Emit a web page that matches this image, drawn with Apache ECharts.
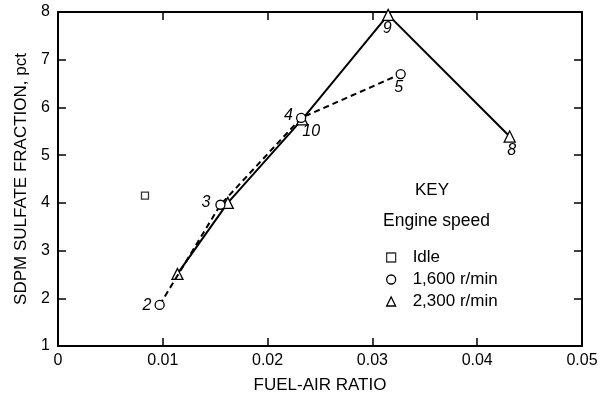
<!DOCTYPE html>
<html><head><meta charset="utf-8">
<script src="https://cdn.jsdelivr.net/npm/echarts@6/dist/echarts.min.js"></script>
<style>html,body{margin:0;padding:0;background:#fff}#c{width:604px;height:399px}</style>
</head><body><div id="c"></div>
<script>
// Data
const idleX = [0.0083];
const idleY = [4.15];
const r1600X = [0.0097, 0.0155, 0.0232, 0.0327];
const r1600Y = [1.86, 3.96, 5.78, 6.70];
const r1600Labels = ['2', '3', '4', '5'];
const r2300X = [0.0114, 0.0162, 0.0233, 0.0315, 0.0431];
const r2300Y = [2.51, 4.00, 5.75, 7.94, 5.39];
const r2300Labels = ['', '', '10', '9', '8'];
const xTicks = [0, 0.01, 0.02, 0.03, 0.04, 0.05];
const yTicks = [1, 2, 3, 4, 5, 6, 7, 8];

const FONT = 'Liberation Sans';
const lblPos1600 = [
  {position: 'left', distance: 3, offset: [0, 1]},
  {position: 'left', distance: 3, offset: [-2, -2]},
  {position: 'left', distance: 3, offset: [0, -2]},
  {position: 'bottom', distance: 0, offset: [-2, 0]}
];
const lblPos2300 = [
  {}, {},
  {position: 'bottom', distance: 1, offset: [9, -3]},
  {position: 'bottom', distance: 0, offset: [-1, 0]},
  {position: 'bottom', distance: 0, offset: [2, 0]}
];
function mk(xs, ys, labels, pos) {
  return xs.map((x, i) => {
    const d = {value: [x, ys[i]]};
    if (labels && labels[i]) {
      d.label = Object.assign({show: true, formatter: labels[i], fontStyle: 'italic',
        fontFamily: FONT, fontSize: 16, color: '#000'}, pos[i]);
    }
    return d;
  });
}
const hollow = {color: '#fff', borderColor: '#000', borderWidth: 1.3};
const chart = echarts.init(document.getElementById('c'), null, {renderer: 'canvas'});
const axisCommon = {
  type: 'value', min: 0, max: 0.05, interval: 0.01,
  axisLine: {show: true, onZero: false, lineStyle: {color: '#000', width: 2}},
  axisTick: {show: true, inside: true, length: 8, lineStyle: {color: '#000', width: 1.5}},
  splitLine: {show: false}
};
chart.setOption({
  animation: false,
  grid: {left: 58, right: 22, top: 12, bottom: 51},
  xAxis: [
    Object.assign({}, axisCommon, {
      position: 'bottom',
      name: 'FUEL-AIR RATIO', nameLocation: 'middle', nameGap: 31,
      nameTextStyle: {fontFamily: FONT, fontSize: 17, color: '#000'},
      axisLabel: {margin: 7, fontFamily: FONT, fontSize: 16, color: '#000',
        formatter: v => { const t = xTicks.find(k => Math.abs(k - v) < 1e-9); return t === 0 ? '0' : String(t); }}
    }),
    Object.assign({}, axisCommon, {position: 'top', axisLabel: {show: false}})
  ],
  yAxis: [
    {type: 'value', min: 1, max: 8, interval: 1, position: 'left',
      name: 'SDPM SULFATE FRACTION, pct', nameLocation: 'middle', nameGap: 27,
      nameTextStyle: {fontFamily: FONT, fontSize: 17, color: '#000'},
      axisLine: {show: true, onZero: false, lineStyle: {color: '#000', width: 2}},
      axisTick: {show: true, inside: true, length: 8, lineStyle: {color: '#000', width: 1.5}},
      splitLine: {show: false},
      axisLabel: {margin: 8, fontFamily: FONT, fontSize: 16, color: '#000',
        formatter: v => String(yTicks.find(k => Math.abs(k - v) < 1e-9))}},
    {type: 'value', min: 1, max: 8, interval: 1, position: 'right',
      axisLine: {show: true, onZero: false, lineStyle: {color: '#000', width: 2}},
      axisTick: {show: true, inside: true, length: 8, lineStyle: {color: '#000', width: 1.5}},
      splitLine: {show: false}, axisLabel: {show: false}}
  ],
  legend: {
    orient: 'vertical', left: 381, top: 244, itemGap: 5,
    itemWidth: 9, itemHeight: 9,
    textStyle: {fontFamily: FONT, fontSize: 17, color: '#000', padding: [0, 0, 0, 12]},
    data: [
      {name: 'Idle', icon: 'rect', itemStyle: hollow},
      {name: '1,600 r/min', icon: 'circle', itemStyle: hollow},
      {name: '2,300 r/min', icon: 'triangle', itemStyle: hollow}
    ]
  },
  graphic: [
    {type: 'text', left: 415, top: 182, style: {text: 'KEY', font: '17px "Liberation Sans"', fill: '#000'}},
    {type: 'text', left: 383, top: 212, style: {text: 'Engine speed', font: '17.5px "Liberation Sans"', fill: '#000'}}
  ],
  series: [
    {name: 'Idle', type: 'scatter', symbol: 'rect', symbolSize: 7,
      itemStyle: hollow, data: mk(idleX, idleY, null, null), z: 5},
    {name: '1,600 r/min', type: 'line', symbol: 'circle', symbolSize: 9,
      showAllSymbol: true,
      lineStyle: {color: '#000', width: 2, type: [6, 4]},
      itemStyle: hollow, data: mk(r1600X, r1600Y, r1600Labels, lblPos1600), z: 4},
    {name: '2,300 r/min', type: 'line', symbol: 'triangle', symbolSize: 11,
      showAllSymbol: true,
      lineStyle: {color: '#000', width: 2},
      itemStyle: hollow, data: mk(r2300X, r2300Y, r2300Labels, lblPos2300), z: 3}
  ]
});
</script></body></html>
